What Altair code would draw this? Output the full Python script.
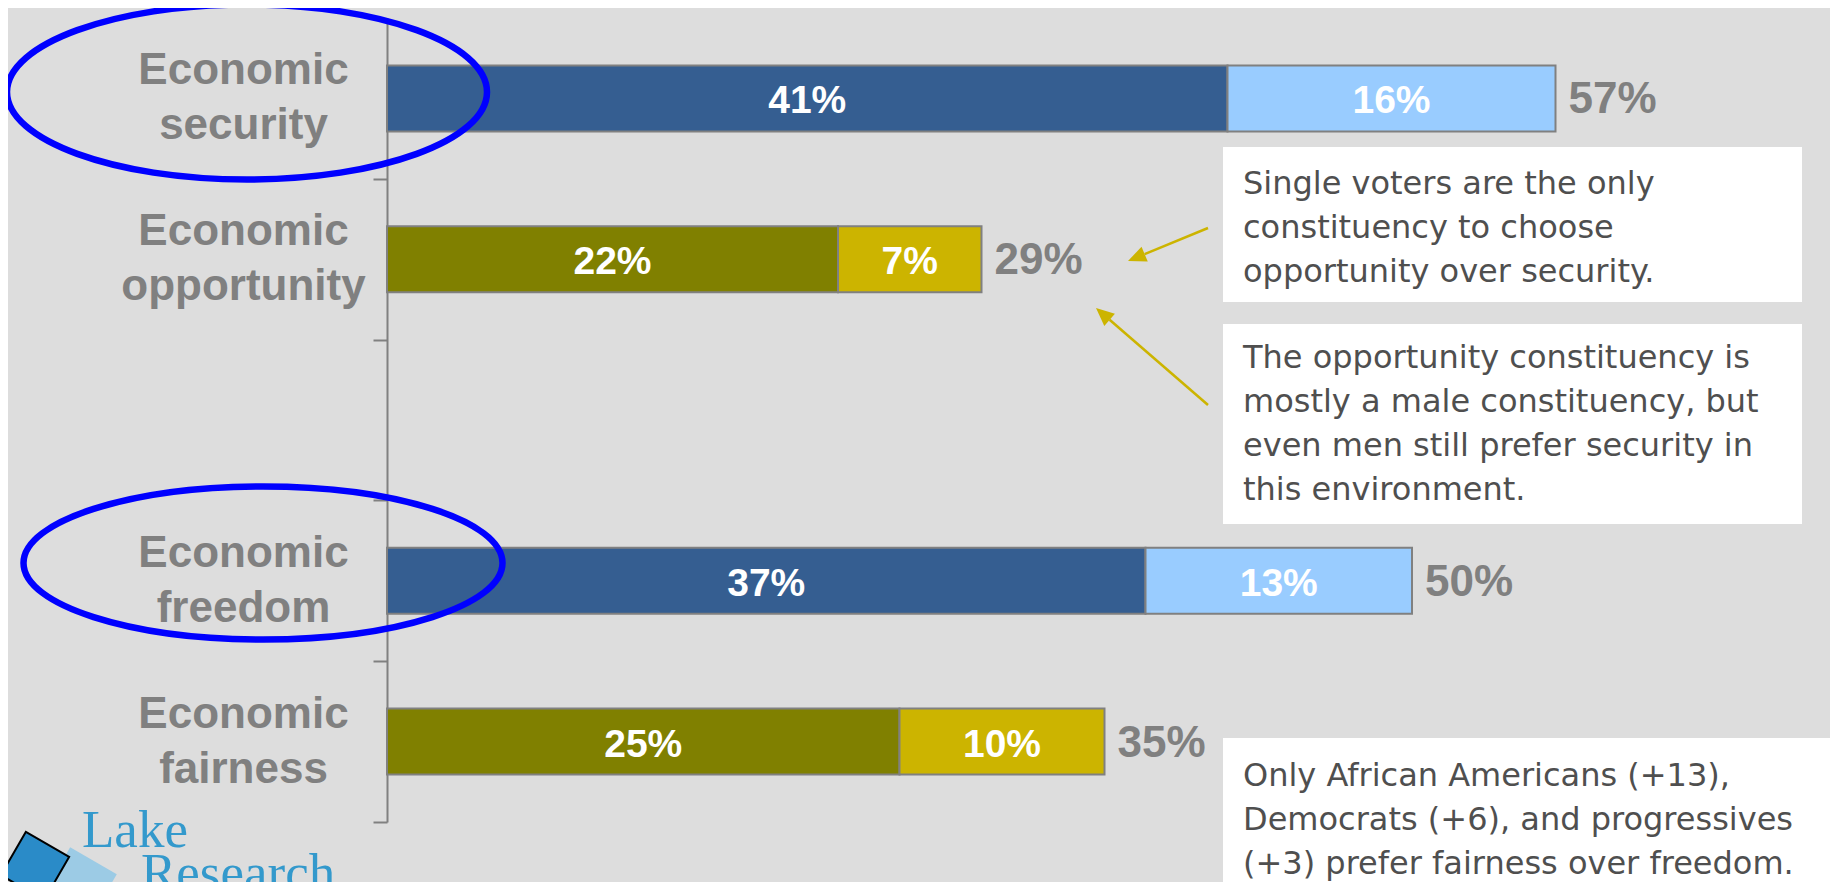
import math
import altair as alt
import pandas as pd

# ---------------- data ----------------
categories = ["Economic security", "Economic opportunity", " ", "Economic freedom", "Economic fairness"]
bar_categories = ["Economic security", "Economic opportunity", "Economic freedom", "Economic fairness"]
strong_values = [41, 22, 37, 25]
weak_values = [16, 7, 13, 10]
palette_groups = ["blue", "olive", "blue", "olive"]

note_1 = ["Single voters are the only", "constituency to choose", "opportunity over security."]
note_2 = ["The opportunity constituency is", "mostly a male constituency, but",
          "even men still prefer security in", "this environment."]
note_3 = ["Only African Americans (+13),", "Democrats (+6), and progressives",
          "(+3) prefer fairness over freedom."]
logo_words = ["Lake", "Research"]

rows = []
for cat, s, w, g in zip(bar_categories, strong_values, weak_values, palette_groups):
    rows.append({"cat": cat, "seg": 1, "value": s, "key": g + "1"})
    rows.append({"cat": cat, "seg": 2, "value": w, "key": g + "2"})
df = pd.DataFrame(rows)
totals = pd.DataFrame({"cat": bar_categories,
                       "total": [s + w for s, w in zip(strong_values, weak_values)]})

# ---------------- style ----------------
BG = "#DDDDDD"
GRAY = "#808080"
GOLD = "#CCB400"
NOTE = "#4F4F4F"
W, H = 1435, 804
STEP = H / len(categories)
LLH = 55

yenc = alt.Y("cat:N", scale=alt.Scale(domain=categories, paddingInner=0, paddingOuter=0),
             axis=alt.Axis(title=None, grid=False, domainColor=GRAY, domainWidth=2,
                           tickColor=GRAY, tickWidth=2, tickSize=14,
                           tickOffset=STEP / 2, labelOffset=-STEP / 2 - LLH / 2,
                           labelExpr="split(datum.label, ' ')",
                           labelFont="Liberation Sans", labelFontWeight="bold",
                           labelFontSize=44, labelColor=GRAY, labelLineHeight=LLH,
                           labelAlign="center", labelBaseline="middle",
                           labelPadding=130, labelLimit=0))
xscale = alt.Scale(domain=[0, 70], nice=False, zero=True)

stacked = alt.Chart(df).transform_stack(
    stack="value", groupby=["cat"], as_=["x0", "x1"], sort=[alt.SortField("seg")]
).transform_calculate(mid="(datum.x0 + datum.x1) / 2", lab="datum.value + '%'")

bars = stacked.mark_bar(size=66, stroke=GRAY, strokeWidth=2).encode(
    x=alt.X("x0:Q", scale=xscale, axis=None), x2="x1:Q", y=yenc,
    color=alt.Color("key:N", legend=None,
                    scale=alt.Scale(domain=["blue1", "blue2", "olive1", "olive2"],
                                    range=["#355E91", "#99CCFF", "#808000", GOLD])))

inner = stacked.mark_text(font="Liberation Sans", fontWeight="bold", fontSize=39,
                          color="white", align="center", baseline="middle", dy=3).encode(
    x=alt.X("mid:Q", scale=xscale, axis=None), y=yenc, text="lab:N")

total_txt = alt.Chart(totals).transform_calculate(lab="datum.total + '%'").mark_text(
    font="Liberation Sans", fontWeight="bold", fontSize=44, color=GRAY,
    align="left", baseline="middle", dx=13, dy=2).encode(
    x=alt.X("total:Q", scale=xscale, axis=None), y=yenc, text="lab:N")

one = alt.Data(values=[{"k": 1}])


def box(x1, y1, x2, y2):
    return alt.Chart(one).mark_rect(color="white").encode(
        x=alt.value(x1), y=alt.value(y1), x2=alt.value(x2), y2=alt.value(y2))


def note(lines, x, y):
    return alt.Chart(one).mark_text(text=lines, font="DejaVu Sans", fontSize=32,
                                    color=NOTE, align="left", baseline="alphabetic",
                                    lineHeight=44).encode(x=alt.value(x), y=alt.value(y))


def arrow(sx, sy, tx, ty, head=18):
    dx, dy = tx - sx, ty - sy
    L = math.hypot(dx, dy)
    ux, uy = dx / L, dy / L
    bx, by = tx - head * ux, ty - head * uy
    ang = math.degrees(math.atan2(ux, -uy)) % 360
    line = alt.Chart(one).mark_rule(color=GOLD, strokeWidth=2.5).encode(
        x=alt.value(sx), y=alt.value(sy), x2=alt.value(bx), y2=alt.value(by))
    tip = alt.Chart(one).mark_point(shape="M 0 -1 L 0.45 0 L -0.45 0 Z", size=(2 * head) ** 2,
                                    filled=True, color=GOLD, opacity=1, angle=ang).encode(
        x=alt.value(bx), y=alt.value(by))
    return line + tip


def ellipse_path(r):
    k = 0.5523
    return (f"M 1 0 C 1 {k*r:.4f} {k:.4f} {r:.4f} 0 {r:.4f} "
            f"C {-k:.4f} {r:.4f} -1 {k*r:.4f} -1 0 "
            f"C -1 {-k*r:.4f} {-k:.4f} {-r:.4f} 0 {-r:.4f} "
            f"C {k:.4f} {-r:.4f} 1 {-k*r:.4f} 1 0 Z")


def ellipse(cx, cy, w, h):
    return alt.Chart(one).mark_point(shape=ellipse_path(h / w), size=w * w, filled=False,
                                     stroke="#0000FF", strokeWidth=6.5, opacity=1).encode(
        x=alt.value(cx), y=alt.value(cy))


logo_sq_light = alt.Chart(one).mark_point(shape="square", size=2900, filled=True,
                                          color="#9CCBE5", opacity=1, angle=30).encode(
    x=alt.value(-307), y=alt.value(866))
logo_sq_dark = alt.Chart(one).mark_point(shape="square", size=2500, filled=True,
                                         color="#2A8BC8", opacity=1, angle=30,
                                         stroke="black", strokeWidth=2).encode(
    x=alt.value(-352), y=alt.value(848))
logo_t1 = alt.Chart(one).mark_text(text=logo_words[0], font="Liberation Serif", fontSize=53,
                                   color="#3399CC", align="left", baseline="alphabetic").encode(
    x=alt.value(-305), y=alt.value(829))
logo_t2 = alt.Chart(one).mark_text(text=logo_words[1], font="Liberation Serif", fontSize=53,
                                   color="#3399CC", align="left", baseline="alphabetic").encode(
    x=alt.value(-246), y=alt.value(872))

chart = alt.layer(
    box(836, 129, 1415, 284), box(836, 306, 1415, 506), box(836, 720, 1460, 880),
    note(note_1, 856, 176), note(note_2, 856, 350), note(note_3, 856, 768),
    arrow(821, 210, 741, 243), arrow(821, 387, 709, 290),
    bars, inner, total_txt,
    logo_sq_light, logo_sq_dark, logo_t1, logo_t2,
    ellipse(-140, 74, 480, 175), ellipse(-124, 545, 479, 153),
).properties(
    width=W, height=H, background=BG,
    padding={"left": 379, "top": 10, "right": 8, "bottom": 60},
    autosize=alt.AutoSizeParams(type="none"),
).configure_view(stroke=None)

chart.save("out.html", embed_options={"renderer": "svg", "actions": False})
